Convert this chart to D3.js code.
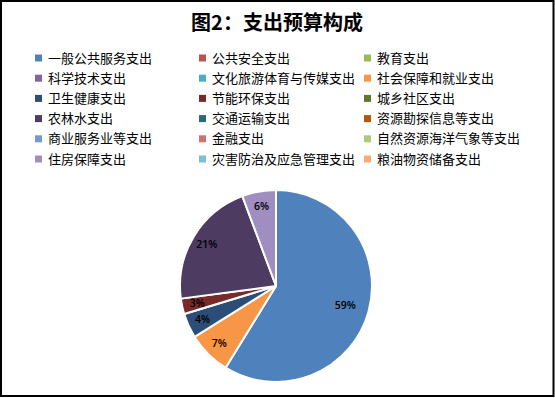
<!DOCTYPE html>
<html>
<head>
<meta charset="utf-8">
<script src="https://cdn.jsdelivr.net/npm/d3@7"></script>
<style>
  html, body { margin: 0; padding: 0; background: #fff; }
  svg { display: block; }
</style>
</head>
<body>
<svg id="chart" width="555" height="398"></svg>
<script>
// categories in legend order (3 per row)
const categories = [
  "一般公共服务支出", "公共安全支出", "教育支出",
  "科学技术支出", "文化旅游体育与传媒支出", "社会保障和就业支出",
  "卫生健康支出", "节能环保支出", "城乡社区支出",
  "农林水支出", "交通运输支出", "资源勘探信息等支出",
  "商业服务业等支出", "金融支出", "自然资源海洋气象等支出",
  "住房保障支出", "灾害防治及应急管理支出", "粮油物资储备支出"
];
// share of budget, %
const values = [
  58.8, 0, 0,
  0, 0, 7.3,
  4.2, 2.6, 0,
  21.4, 0, 0,
  0, 0, 0,
  5.7, 0, 0
];
const colors = [
  "#4f81bd", "#c0504d", "#9bbb59",
  "#8064a2", "#4bacc6", "#f79646",
  "#2c4d75", "#772c2a", "#5f7530",
  "#4d3b62", "#276a7c", "#b65708",
  "#729aca", "#cd7371", "#afc97a",
  "#a18ec0", "#7bc0d6", "#f9ab74"
];
const title = "图2：支出预算构成";

const svg = d3.select("#chart");
const W = +svg.attr("width"), H = +svg.attr("height");

// outer frame
svg.append("rect")
  .attr("x", 1).attr("y", 1)
  .attr("width", W - 2.5).attr("height", H - 3)
  .attr("fill", "#fff")
  .attr("stroke", "#000")
  .attr("stroke-width", 2);

svg.append("text")
  .attr("x", 277).attr("y", 30)
  .attr("text-anchor", "middle")
  .attr("font-family", "'Noto Sans CJK SC', sans-serif")
  .attr("font-weight", "bold")
  .attr("font-size", 20)
  .text(title);

////////////////////////////////////////////
// LEGEND
////////////////////////////////////////////
const colX = [35, 199, 364];
const rowY = d3.scaleLinear().domain([0, 5]).range([58, 159]);

const leg = svg.append("g")
  .selectAll("g")
  .data(categories)
  .join("g")
  .attr("transform", (d, i) => `translate(${colX[i % 3]},${rowY(Math.floor(i / 3))})`);

leg.append("rect")
  .attr("x", 0).attr("y", -3.5)
  .attr("width", 7).attr("height", 7)
  .attr("fill", (d, i) => colors[i]);

leg.append("text")
  .attr("x", 13).attr("y", 0)
  .attr("dy", "0.36em")
  .attr("font-family", "'Noto Sans CJK SC', sans-serif")
  .attr("font-size", 13)
  .attr("fill", "#000")
  .text(d => d);

////////////////////////////////////////////
// PIE
////////////////////////////////////////////
const cx = 276, cy = 286, R = 96;
const data = categories.map((c, i) => ({ name: c, value: values[i], col: colors[i] }));

const pie = d3.pie().sort(null).value(d => d.value);
const arcs = pie(data).filter(d => d.data.value > 0);
const arc = d3.arc().innerRadius(0).outerRadius(R);

const g = svg.append("g").attr("transform", `translate(${cx},${cy})`);

g.selectAll("path")
  .data(arcs)
  .join("path")
  .attr("d", arc)
  .attr("fill", d => d.data.col)
  .attr("stroke", "#fff")
  .attr("stroke-width", 2)
  .attr("stroke-linejoin", "round");

const total = d3.sum(values);
g.selectAll("text.lbl")
  .data(arcs)
  .join("text")
  .attr("class", "lbl")
  .attr("transform", d => {
    let r = (d.endAngle - d.startAngle) > Math.PI ? R * 0.75 : R * 0.84;
    let a = (d.startAngle + d.endAngle) / 2;
    return `translate(${r * Math.sin(a)},${-r * Math.cos(a)})`;
  })
  .attr("text-anchor", "middle")
  .attr("dy", "0.36em")
  .attr("font-family", "'Open Sans', sans-serif")
  .attr("font-weight", 600)
  .attr("font-size", 10.5)
  .attr("fill", "#000")
  .text(d => Math.round(d.data.value / total * 100) + "%");
</script>
</body>
</html>
